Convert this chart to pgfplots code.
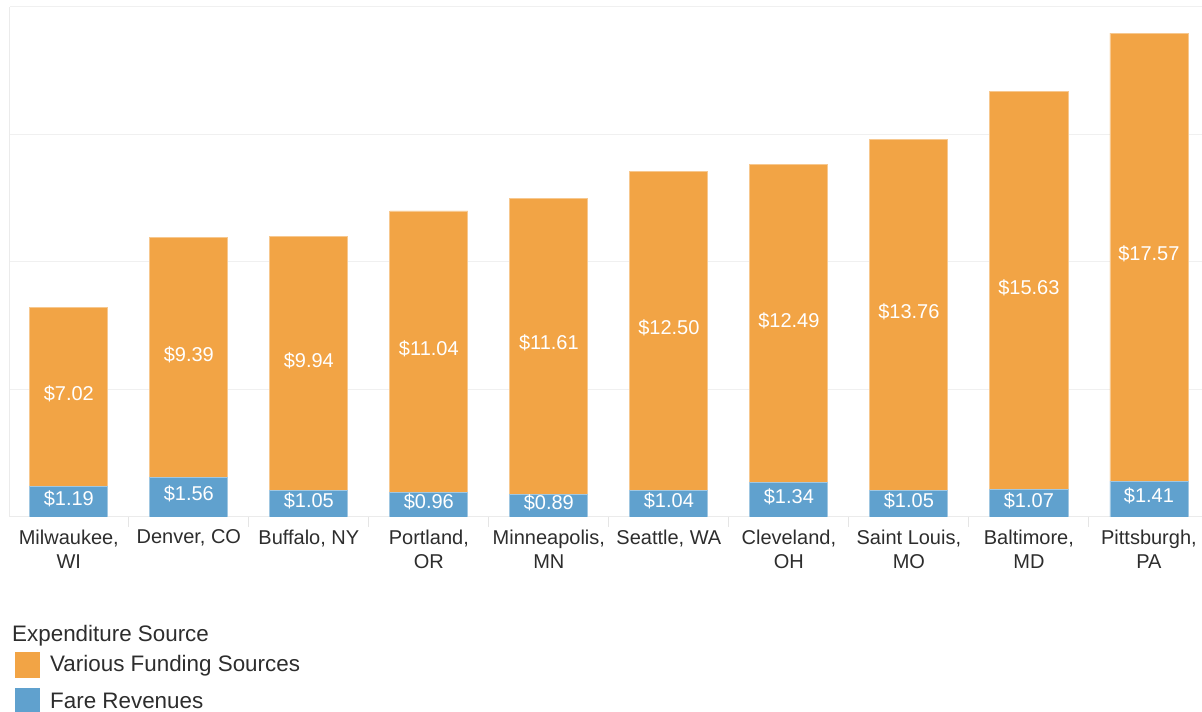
\documentclass[border=0pt]{standalone}
\usepackage{pgfplots}
\pgfplotsset{compat=1.18}
\usepackage{pgfplotstable}
\usepackage{fontspec}
\setmainfont{Liberation Sans}
\definecolor{orng}{RGB}{242,164,69}
\definecolor{blu}{RGB}{96,161,206}
\definecolor{txt}{RGB}{45,45,45}
\pgfplotstableread{
x b o
0 1.19 7.02
1 1.56 9.39
2 1.05 9.94
3 0.96 11.04
4 0.89 11.61
5 1.04 12.50
6 1.34 12.49
7 1.05 13.76
8 1.07 15.63
9 1.41 17.57
}\data
\pgfplotsset{common/.style={
  at={(10pt,195pt)}, anchor=south west,
  width=1192pt, height=510pt, scale only axis,
  xmin=-0.49, xmax=9.443, ymin=0, ymax=20}}
\begin{document}
\begin{tikzpicture}
\useasboundingbox (0,0) rectangle (1202pt,712pt);
\begin{axis}[common,
  ybar stacked, bar width=0.65,
  axis x line*=bottom, axis y line*=left,
  axis line style={black!8, -, line width=1pt},
  ytick={5,10,15,20}, yticklabels={}, ymajorgrids,
  grid style={black!6, line width=1pt},
  xtick={0,...,9},
  xticklabels={{Milwaukee,\\WI},{Denver, CO},{Buffalo, NY},{Portland,\\OR},{Minneapolis,\\MN},{Seattle, WA},{Cleveland,\\OH},{Saint Louis,\\MO},{Baltimore,\\MD},{Pittsburgh,\\PA}},
  xticklabel style={align=center, text=txt, font=\fontsize{20}{24}\selectfont, yshift=-9pt},
  minor xtick={0.5,1.5,...,8.5},
  major tick length=0pt, minor tick length=10pt, tick align=outside,
  minor tick style={black!10, line width=1pt},
]
\addplot[fill=blu, draw=blu!60!white, line width=0.8pt] table[x=x,y=b]{\data};
\addplot[fill=orng, draw=orng!60!white, line width=0.8pt] table[x=x,y=o]{\data};
\end{axis}
\begin{axis}[common, hide axis,
  point meta=explicit,
  nodes near coords={\$\pgfmathprintnumber[fixed,fixed zerofill,precision=2,assume math mode=true]{\pgfplotspointmeta}},
  every node near coord/.append style={anchor=center, text=white, font=\fontsize{20}{24}\selectfont, yshift=3pt},
]
\addplot[draw=none, mark=none] table[x=x, y expr=\thisrow{b}/2, meta=b]{\data};
\addplot[draw=none, mark=none] table[x=x, y expr=\thisrow{b}+\thisrow{o}/2, meta=o]{\data};
\end{axis}
\node[anchor=base west, inner sep=0, text=txt, font=\fontsize{22.4}{26}\selectfont] at (12pt,70pt) {Expenditure Source};
\fill[orng] (15pt,34pt) rectangle (40pt,60pt);
\node[anchor=base west, inner sep=0, text=txt, font=\fontsize{22.4}{26}\selectfont] at (50pt,40pt) {Various Funding Sources};
\fill[blu] (15pt,0pt) rectangle (40pt,24pt);
\node[anchor=base west, inner sep=0, text=txt, font=\fontsize{22.4}{26}\selectfont] at (50pt,3pt) {Fare Revenues};
\end{tikzpicture}
\end{document}
